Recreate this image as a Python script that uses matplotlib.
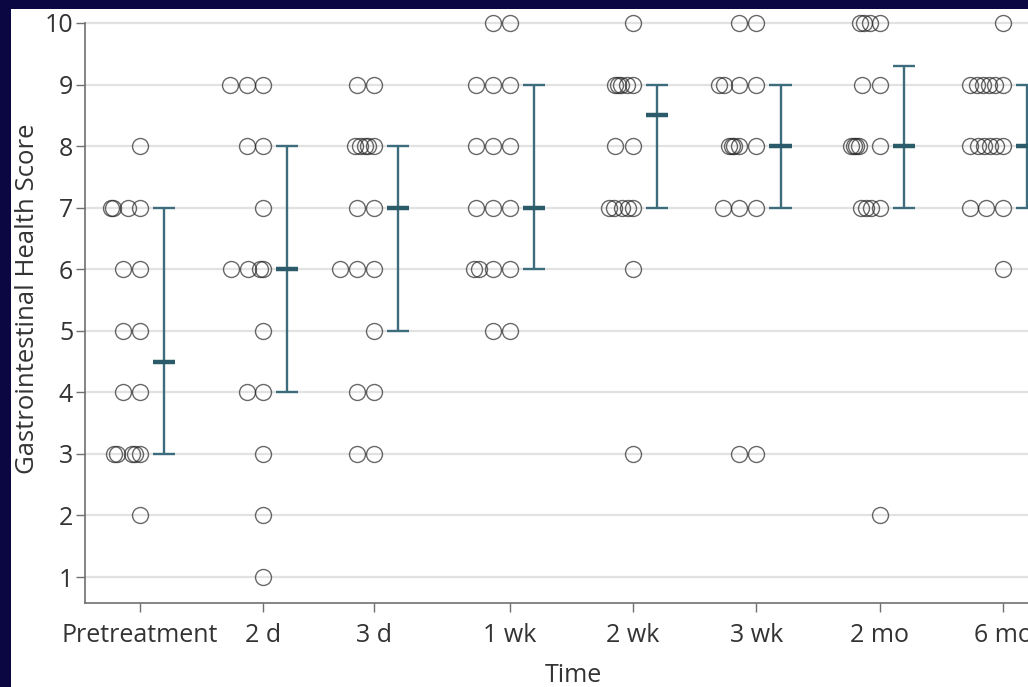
import matplotlib
matplotlib.use("Agg")
import matplotlib.pyplot as plt

# ---------------- data ----------------
categories = ["Pretreatment", "2 d", "3 d", "1 wk", "2 wk", "3 wk", "2 mo", "6 mo"]
positions = [0, 1, 1.9, 3, 4, 5, 6, 7]

pre_scores = [8, 7, 7, 7, 7, 6, 6, 5, 5, 4, 4, 3, 3, 3, 3, 3, 2]
pre_jitter = [0, -0.235, -0.22, -0.10, 0, -0.14, 0, -0.14, 0, -0.14, 0, -0.21, -0.19, -0.065, -0.04, 0, 0]

d2_scores = [9, 9, 9, 8, 8, 7, 6, 6, 6, 6, 5, 4, 4, 3, 2, 1]
d2_jitter = [-0.27, -0.13, 0, -0.13, 0, 0, -0.26, -0.12, -0.03, 0, 0, -0.13, 0, 0, 0, 0]

d3_scores = [9, 9, 8, 8, 8, 8, 8, 7, 7, 6, 6, 6, 5, 4, 4, 3, 3]
d3_jitter = [-0.14, 0, -0.155, -0.115, -0.075, -0.05, 0, -0.14, 0, -0.275, -0.14, 0, 0, -0.14, 0, -0.14, 0]

wk1_scores = [10, 10, 9, 9, 9, 8, 8, 8, 7, 7, 7, 6, 6, 6, 6, 5, 5]
wk1_jitter = [-0.14, 0, -0.275, -0.14, 0, -0.275, -0.14, 0, -0.275, -0.14, 0, -0.29, -0.25, -0.14, 0, -0.14, 0]

wk2_scores = [10, 9, 9, 9, 9, 9, 8, 8, 7, 7, 7, 7, 7, 6, 3]
wk2_jitter = [0, -0.145, -0.12, -0.10, -0.05, 0, -0.145, 0, -0.20, -0.155, -0.09, -0.04, 0, 0, 0]

wk3_scores = [10, 10, 9, 9, 9, 9, 8, 8, 8, 8, 8, 7, 7, 7, 3, 3]
wk3_jitter = [-0.14, 0, -0.30, -0.26, -0.14, 0, -0.225, -0.20, -0.18, -0.14, 0, -0.27, -0.14, 0, -0.14, 0]

mo2_scores = [10, 10, 10, 10, 9, 9, 8, 8, 8, 8, 8, 7, 7, 7, 7, 2]
mo2_jitter = [-0.16, -0.13, -0.08, 0, -0.14, 0, -0.235, -0.21, -0.19, -0.165, 0, -0.155, -0.115, -0.075, 0, 0]

mo6_scores = [10, 9, 9, 9, 9, 9, 9, 8, 8, 8, 8, 8, 8, 7, 7, 7, 6]
mo6_jitter = [0, -0.27, -0.21, -0.16, -0.11, -0.065, 0, -0.27, -0.205, -0.155, -0.105, -0.057, 0, -0.27, -0.14, 0, 0]

medians = [4.5, 6, 7, 7, 8.5, 8, 8, 8]
q1 = [3, 4, 5, 6, 7, 7, 7, 7]
q3 = [7, 8, 8, 9, 9, 9, 9.3, 9]

y_ticks = list(range(1, 11))
x_label = "Time"
y_label = "Gastrointestinal Health Score"

all_scores = [pre_scores, d2_scores, d3_scores, wk1_scores, wk2_scores, wk3_scores, mo2_scores, mo6_scores]
all_jitter = [pre_jitter, d2_jitter, d3_jitter, wk1_jitter, wk2_jitter, wk3_jitter, mo2_jitter, mo6_jitter]

# ---------------- style ----------------
plt.rcParams['font.family'] = ['Open Sans', 'DejaVu Sans']
W, H = 1028, 687
fig = plt.figure(figsize=(W / 100, H / 100), dpi=100)
fig.patch.set_facecolor('#0b0742')

bg = fig.add_axes([11 / W, 0, 1 - 11 / W, 1 - 9 / H], zorder=-10)
bg.set_facecolor('white')
bg.set_xticks([])
bg.set_yticks([])
for s in bg.spines.values():
    s.set_visible(False)

ax = fig.add_axes([85 / W, (H - 603) / H, (1061 - 85) / W, (603 - 23) / H], zorder=1)
ax.set_facecolor('none')
ax.set_xlim(-0.446, 7.47)
ax.set_ylim(0.578, 10.0)

for y in y_ticks:
    ax.axhline(y, color='#e2e2e2', lw=1.6, zorder=1, clip_on=False)

bar_color = '#3d6d7d'
med_color = '#2b5a69'
bar_dx = 0.195
cap_hw = 0.09

for pos, sc, jit, md, lo, hi in zip(positions, all_scores, all_jitter, medians, q1, q3):
    xs = [pos + j for j in jit]
    ax.plot(xs, sc, linestyle='none', marker='o', markersize=11.5, markerfacecolor='none',
            markeredgecolor='#222222', markeredgewidth=1.0, alpha=0.68, zorder=3, clip_on=False)
    bx = pos + bar_dx
    ax.vlines(bx, lo, hi, color=bar_color, lw=1.7, zorder=4)
    ax.hlines([lo, hi], bx - cap_hw, bx + cap_hw, color=bar_color, lw=1.7, zorder=4)
    ax.hlines(md, bx - cap_hw, bx + cap_hw, color=med_color, lw=3.2, zorder=5)

for s in ['top', 'right']:
    ax.spines[s].set_visible(False)
for s in ['left', 'bottom']:
    ax.spines[s].set_color('#707070')
    ax.spines[s].set_linewidth(1.2)

ax.set_yticks(y_ticks)
ax.set_yticklabels([str(v) for v in y_ticks])
ax.set_xticks(positions)
ax.set_xticklabels(categories)
ax.tick_params(axis='both', colors='#707070', labelcolor='#333333', labelsize=18, width=1.0, length=6.5)
ax.tick_params(axis='y', pad=2)
ax.tick_params(axis='x', pad=8)

fig.text(28 / W, 1 - 299 / H, y_label, rotation=90, ha='center', va='center', fontsize=18.5, color='#333333')
fig.text(573 / W, 1 - 676 / H, x_label, ha='center', va='center', fontsize=18, color='#333333')

fig.savefig('out.png', dpi=100, facecolor=fig.get_facecolor())
